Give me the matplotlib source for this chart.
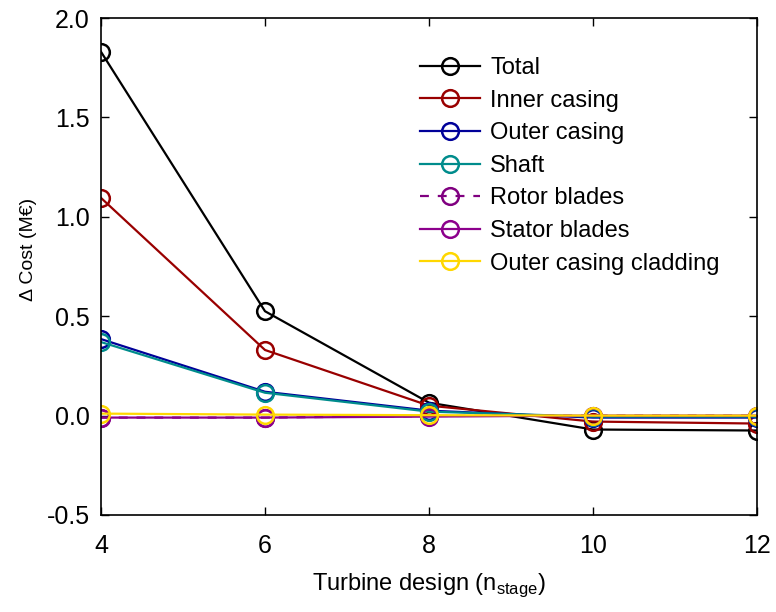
import numpy as np
import matplotlib
matplotlib.use("Agg")
import matplotlib.pyplot as plt

plt.rcParams['font.family'] = ['Liberation Sans', 'DejaVu Sans']

# turbine designs (number of stages)
n_stage = [4, 6, 8, 10, 12]

# cost differences in M EUR
total = [1.83, 0.525, 0.065, -0.07, -0.075]
inner_casing = [1.095, 0.33, 0.05, -0.03, -0.04]
outer_casing = [0.385, 0.12, 0.025, -0.01, -0.01]
shaft = [0.37, 0.115, 0.02, -0.005, -0.005]
rotor_blades = [-0.01, -0.01, -0.002, 0.0, 0.0]
stator_blades = [-0.01, -0.01, -0.005, 0.0, 0.0]
cladding = [0.01, 0.005, 0.002, 0.0, 0.0]

series = [
    ("Total", total, "black", "-"),
    ("Inner casing", inner_casing, "#990000", "-"),
    ("Outer casing", outer_casing, "#000099", "-"),
    ("Shaft", shaft, "#008c8c", "-"),
    ("Rotor blades", rotor_blades, "#800080", (0, (4, 4))),
    ("Stator blades", stator_blades, "#8c008c", "-"),
    ("Outer casing cladding", cladding, "#ffd700", "-"),
]

W, H = 776, 612
fig = plt.figure(figsize=(W / 100, H / 100), dpi=100)
ax = fig.add_axes([101 / W, 1 - 515 / H, (757 - 101) / W, (515 - 18) / H])

for name, vals, col, ls in series:
    ax.plot(n_stage, vals, color=col, linestyle=ls, linewidth=1.6,
            marker='o', markersize=12, markerfacecolor='none',
            markeredgewidth=1.8, label=name)

ax.set_xlim(4, 12)
ax.set_ylim(-0.5, 2.0)
ax.set_xticks(n_stage)
ax.set_yticks([-0.5, 0.0, 0.5, 1.0, 1.5, 2.0])
ax.set_yticklabels(["-0.5", "0.0", "0.5", "1.0", "1.5", "2.0"])
ax.tick_params(direction='in', length=6, width=1, labelsize=18,
               top=True, right=True)
ax.tick_params(axis='y', pad=8)
ax.tick_params(axis='x', pad=14)
for sp in ax.spines.values():
    sp.set_linewidth(1.2)

ax.set_xlabel("Turbine design (n$_\\mathregular{stage}$)", fontsize=17)
ax.xaxis.set_label_coords(0.5, (515 - 571) / 497)
ax.set_ylabel("\u0394 Cost (M\u20ac)", fontsize=14)
ax.yaxis.set_label_coords((37 - 101) / 656, (515 - 249) / 497)

ax.legend(loc='upper left', bbox_to_anchor=(420 / W, 1 - 57 / H),
          bbox_transform=fig.transFigure, frameon=False,
          fontsize=17, handlelength=2.55, handletextpad=0.42,
          labelspacing=0.45, borderaxespad=0, borderpad=0)

fig.savefig("out.png", dpi=100)
